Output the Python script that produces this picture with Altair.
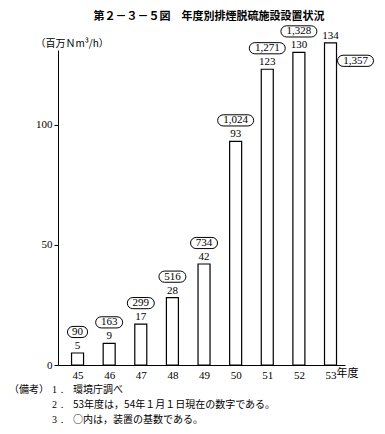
import altair as alt
import pandas as pd

years = [45, 46, 47, 48, 49, 50, 51, 52, 53]
capacity = [5, 9, 17, 28, 42, 93, 123, 130, 134]
counts = ["90", "163", "299", "516", "734", "1,024", "1,271", "1,328", "1,357"]

title_text = "第２－３－５図　年度別排煙脱硫施設設置状況"
unit_text = "（百万Ｎm³/h）"
notes_head = "（備考）"
note_nums = ["1．", "2．", "3．"]
note_texts = ["環境庁調べ", "53年度は，54年１月１日現在の数字である。", "○内は，装置の基数である。"]

df = pd.DataFrame({"year": years, "cap": capacity, "cnt": counts})

SERIF = "Liberation Serif"
JP = "Noto Sans CJK JP"


def stadium(a, b=0.31):
    c = a - b
    k = 0.5523 * b
    return (f"M {-c},{-b} L {c},{-b} C {c+k},{-b} {a},{-k} {a},0 C {a},{k} {c+k},{b} {c},{b} "
            f"L {-c},{b} C {-c-k},{b} {-a},{k} {-a},0 C {-a},{-k} {-c-k},{-b} {-c},{-b} Z")


shape_scale = alt.Scale(domain=["2", "3", "5"], range=[stadium(0.56), stadium(0.75), stadium(1.0)])

xaxis = alt.Axis(values=years, tickCount=9, format="d", ticks=False, labelPadding=4,
                 domainColor="black", labelOverlap=False, labelFlush=False,
                 labelFont=SERIF, labelFontSize=11, labelColor="black", grid=False, title=None)
yaxis = alt.Axis(values=[0, 50, 100], tickSize=4, tickColor="black", domainColor="black",
                 labelFont=SERIF, labelFontSize=11, labelColor="black", grid=False,
                 labelOverlap=False, labelFlush=False,
                 title=unit_text, titleAngle=0, titleX=-23, titleY=-7, titleAlign="left",
                 titleBaseline="middle", titleFont=JP, titleFontSize=10,
                 titleFontWeight="normal", titleColor="black")
xs = alt.X("year:Q", scale=alt.Scale(domain=[44.54, 53.3], nice=False, zero=False), axis=xaxis)
ys = alt.Y("cap:Q", scale=alt.Scale(domain=[0, 131], nice=False), axis=yaxis)

base = alt.Chart(df)
bars = base.mark_bar(size=12, fill="white", stroke="black", strokeWidth=1.2).encode(x=xs, y=ys)
vals = base.mark_text(baseline="bottom", dy=-2, font=SERIF, fontSize=11, color="black").encode(
    x=xs, y=ys, text="cap:Q")

cls = base.transform_calculate(cls="'' + length(datum.cnt)")
circ_main = cls.transform_filter("datum.year < 53").mark_point(
    size=1296, filled=False, stroke="black", strokeWidth=1, opacity=1, yOffset=-21).encode(
    x=xs, y=ys, shape=alt.Shape("cls:N", scale=shape_scale, legend=None))
txt_main = base.transform_filter("datum.year < 53").mark_text(
    dy=-21, baseline="middle", font=SERIF, fontSize=11, color="black").encode(
    x=xs, y=ys, text="cnt:N")
circ_last = cls.transform_filter("datum.year == 53").mark_point(
    size=1296, filled=False, stroke="black", strokeWidth=1, opacity=1, xOffset=25, yOffset=18).encode(
    x=xs, y=ys, shape=alt.Shape("cls:N", scale=shape_scale, legend=None))
txt_last = base.transform_filter("datum.year == 53").mark_text(
    dx=25, dy=18, baseline="middle", font=SERIF, fontSize=11, color="black").encode(
    x=xs, y=ys, text="cnt:N")

nendo = alt.Chart(pd.DataFrame({"year": [53], "t": ["年度"]})).mark_text(
    align="left", baseline="top", dx=6, font=JP, fontSize=11, color="black").encode(
    x=xs, y=alt.value(318), text="t:N")

title = alt.Chart(pd.DataFrame({"t": [title_text]})).mark_text(
    font=JP, fontSize=11, fontWeight="bold", color="black", baseline="middle").encode(
    x=alt.value(151), y=alt.value(-33), text="t:N")

layers = [bars, vals, circ_main, txt_main, circ_last, txt_last, nendo, title]

layers.append(alt.Chart(pd.DataFrame({"t": [notes_head]})).mark_text(
    font=JP, fontSize=10, color="black", align="left", baseline="middle").encode(
    x=alt.value(-49), y=alt.value(340), text="t:N"))
for i in range(3):
    layers.append(alt.Chart(pd.DataFrame({"t": [note_nums[i]]})).mark_text(
        font=SERIF, fontSize=10, color="black", align="left", baseline="middle").encode(
        x=alt.value(-6), y=alt.value(340 + 15 * i), text="t:N"))
    layers.append(alt.Chart(pd.DataFrame({"t": [note_texts[i]]})).mark_text(
        font=JP, fontSize=10, color="black", align="left", baseline="middle").encode(
        x=alt.value(15), y=alt.value(340 + 15 * i), text="t:N"))

chart = alt.layer(*layers).properties(
    width=287, height=315,
    autosize=alt.AutoSizeParams(type="none"),
    padding={"left": 50, "top": 42, "right": 31, "bottom": 60},
    background="white",
).configure_view(stroke=None).configure_axis(labelOverlap=False)

chart.save("out.html", embed_options={"renderer": "svg", "actions": False})
